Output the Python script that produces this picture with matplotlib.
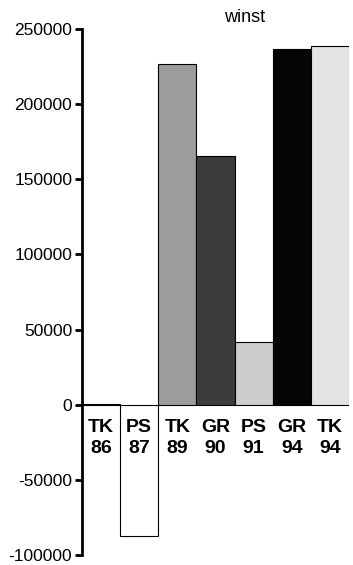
import matplotlib.pyplot as plt

# values
labels = ['TK\n86', 'PS\n87', 'TK\n89', 'GR\n90', 'PS\n91', 'GR\n94', 'TK\n94']
winst = [600, -87500, 226500, 165500, 41500, 237000, 239000]
colors = ['#ffffff', '#ffffff', '#9c9c9c', '#3c3c3c', '#cdcdcd', '#050505', '#e3e3e3']
yticks = [-100000, -50000, 0, 50000, 100000, 150000, 200000, 250000]

plt.rcParams['font.family'] = 'Liberation Sans'
fig = plt.figure(figsize=(3.53, 5.65), dpi=100)
ax = fig.add_axes([82 / 353, 1 - 555 / 565, 267 / 353, (555 - 29) / 565])

x = range(len(winst))
ax.bar(x, winst, width=1, align='edge', color=colors,
       edgecolor='black', linewidth=0.8)
ax.set_xlim(0, len(winst))
ax.set_ylim(-100000, 250000)
ax.set_yticks(yticks)
ax.set_yticklabels([str(t) for t in yticks], fontsize=12.5)

for i, lab in enumerate(labels):
    ax.annotate(lab, xy=(i + 0.5, 0), xytext=(0, -10), textcoords='offset points',
                ha='center', va='top', fontsize=14, fontweight='bold',
                linespacing=1.35)

ax.text(0.61, 1.005, 'winst', transform=ax.transAxes, ha='center',
        va='bottom', fontsize=13)

for s in ['top', 'right', 'bottom']:
    ax.spines[s].set_visible(False)
ax.spines['left'].set_linewidth(2)
ax.tick_params(axis='y', length=5, width=2, pad=2)
ax.set_xticks([])

fig.savefig('out.png', dpi=100)
